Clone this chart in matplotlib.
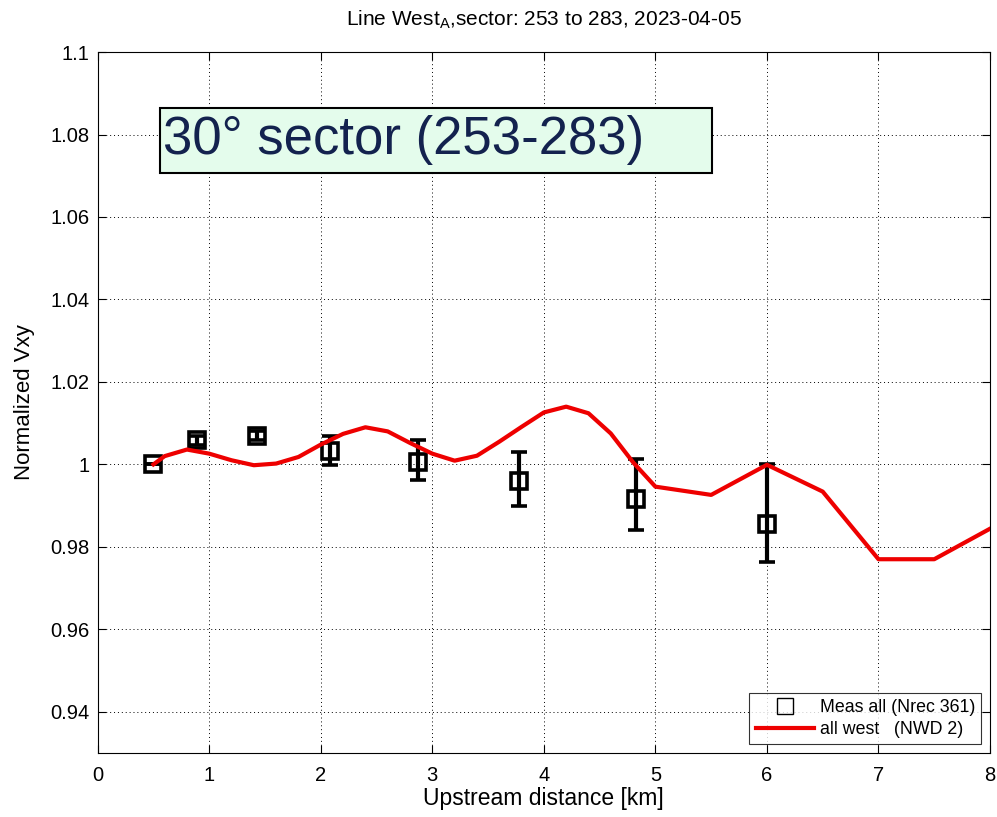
import matplotlib
matplotlib.use("Agg")
import matplotlib.pyplot as plt
from matplotlib.patches import Rectangle
from matplotlib.lines import Line2D

plt.rcParams['font.family'] = ['Liberation Sans', 'DejaVu Sans']

# Measured normalized speed with error bars
meas_x = [0.50, 0.89, 1.43, 2.08, 2.87, 3.78, 4.83, 6.00]
meas_y = [1.0000, 1.0058, 1.0070, 1.0033, 1.0007, 0.9960, 0.9917, 0.9856]
meas_lo = [0.0000, 0.0010, 0.0010, 0.0034, 0.0044, 0.0060, 0.0077, 0.0092]
meas_hi = [0.0000, 0.0010, 0.0010, 0.0037, 0.0053, 0.0070, 0.0097, 0.0144]

# Modelled profile (all west)
model_x = [0.5, 0.6, 0.8, 1.0, 1.2, 1.4, 1.6, 1.8, 2.0, 2.2, 2.4, 2.6, 2.8, 3.0,
           3.2, 3.4, 3.6, 3.8, 4.0, 4.2, 4.4, 4.6, 4.8, 5.0, 5.5, 6.0, 6.5, 7.0,
           7.5, 8.0]
model_y = [1.0000, 1.0020, 1.0036, 1.0026, 1.0010, 0.9998, 1.0002, 1.0018,
           1.0048, 1.0074, 1.0090, 1.0080, 1.0052, 1.0026, 1.0009, 1.0021,
           1.0055, 1.0091, 1.0126, 1.0140, 1.0124, 1.0075, 1.0005, 0.9946,
           0.9926, 0.9999, 0.9934, 0.9770, 0.9770, 0.9844]

x_ticks = [0, 1, 2, 3, 4, 5, 6, 7, 8]
y_ticks = [0.94, 0.96, 0.98, 1.0, 1.02, 1.04, 1.06, 1.08, 1.1]
y_tick_labels = ['0.94', '0.96', '0.98', '1', '1.02', '1.04', '1.06', '1.08', '1.1']

fig = plt.figure(figsize=(9.97, 8.17), dpi=100)
ax = fig.add_axes([0.098, 0.0783, 0.895, 0.858])

ax.errorbar(meas_x, meas_y, yerr=[meas_lo, meas_hi], fmt='s', color='black',
            mfc='none', mec='black', ms=11.5, mew=2.6, elinewidth=3, capsize=5.5,
            capthick=3, zorder=3, label='Meas all (Nrec 361)')
ax.plot(model_x, model_y, color='#ee0000', lw=3, zorder=4,
        label='all west   (NWD 2)')

ax.set_xlim(0, 8)
ax.set_ylim(0.93, 1.1)
ax.set_xticks(x_ticks)
ax.set_yticks(y_ticks)
ax.set_yticklabels(y_tick_labels)
ax.tick_params(direction='in', top=True, right=True, labelsize=14.5, length=6,
               width=0.8)
ax.tick_params(axis='x', pad=9)
ax.tick_params(axis='y', pad=6)
ax.grid(True, linestyle=(0, (1, 3)), color='black', linewidth=0.7)
for s in ax.spines.values():
    s.set_linewidth(0.8)

ax.set_xlabel('Upstream distance [km]', fontsize=16.5, labelpad=2)
ax.set_ylabel('Normalized Vxy', fontsize=16, labelpad=11)
ax.set_title('Line West$_\\mathregular{A}$,sector: 253 to 283, 2023-04-05',
             fontsize=15, pad=19)

# Sector annotation box
box = Rectangle((0.0695, 0.827), 0.619, 0.093, transform=ax.transAxes,
                facecolor='#e4fcec', edgecolor='black', linewidth=1.5, zorder=5)
ax.add_patch(box)
ax.text(0.073, 0.874, '30° sector (253-283)', transform=ax.transAxes,
        fontsize=38, color='#13224e', va='center', ha='left', zorder=6)

# Legend with a plain open square for the measurements
h_meas = Line2D([], [], marker='s', ls='none', mfc='none', mec='black',
                ms=12, mew=1.0)
h_mod = Line2D([], [], color='#ee0000', lw=3)
leg = ax.legend([h_meas, h_mod], ['Meas all (Nrec 361)', 'all west   (NWD 2)'],
                loc='lower right', fontsize=12.8, frameon=True, fancybox=False,
                edgecolor='black', handlelength=3.3, borderaxespad=0.5,
                labelspacing=0.25, handletextpad=0.3, borderpad=0.35)
leg.get_frame().set_linewidth(0.8)
leg.set_zorder(7)

fig.savefig('out.png', dpi=100)
